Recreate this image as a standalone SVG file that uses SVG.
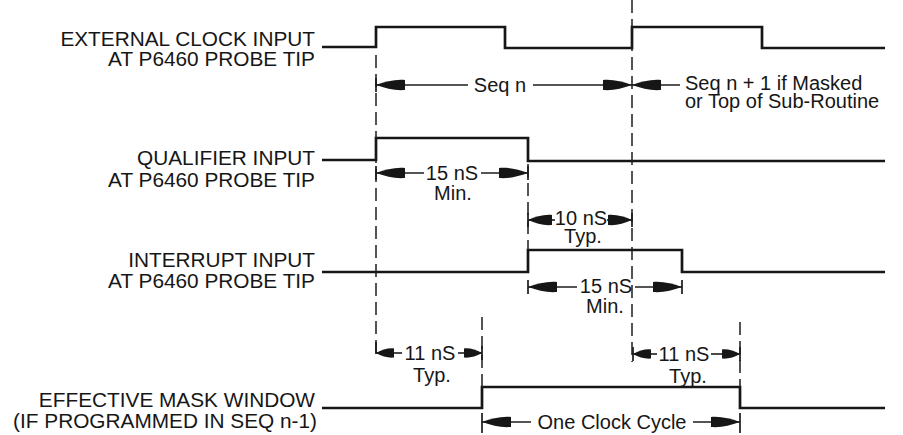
<svg xmlns="http://www.w3.org/2000/svg" width="903" height="435" viewBox="0 0 903 435">
<style>
  .sig{fill:none;stroke:#161616;stroke-width:2.7;stroke-linejoin:miter}
  .dash{fill:none;stroke:#1c1c1c;stroke-width:1.5;stroke-dasharray:13 6}
  .tick{fill:none;stroke:#1c1c1c;stroke-width:1.7}
  .dim{fill:none;stroke:#1c1c1c;stroke-width:1.6}
  .lbl{font-family:"Liberation Sans",Arial,sans-serif;font-size:20.8px;fill:#161616;text-anchor:end}
  .ann{font-family:"Liberation Sans",Arial,sans-serif;font-size:20px;fill:#161616;text-anchor:middle}
  .annl{font-family:"Liberation Sans",Arial,sans-serif;font-size:20px;fill:#161616;text-anchor:start}
  .head{fill:#161616;stroke:none}
</style>
<defs>
  <marker id="ahL" markerUnits="userSpaceOnUse" markerWidth="29" markerHeight="13" viewBox="0 -6.5 29 13" refX="29" refY="0" orient="auto-start-reverse" overflow="visible">
    <path class="head" d="M0,-5 C10,-5.8 19,-3.5 29,0 C19,3.5 10,5.8 0,5 Z"/>
  </marker>
  <marker id="ahM" markerUnits="userSpaceOnUse" markerWidth="24" markerHeight="13" viewBox="0 -6.5 24 13" refX="24" refY="0" orient="auto-start-reverse" overflow="visible">
    <path class="head" d="M0,-5 C8,-5.8 16,-3.5 24,0 C16,3.5 8,5.8 0,5 Z"/>
  </marker>
  <marker id="ahS" markerUnits="userSpaceOnUse" markerWidth="18" markerHeight="12" viewBox="0 -6 18 12" refX="18" refY="0" orient="auto-start-reverse" overflow="visible">
    <path class="head" d="M0,-4.6 C6,-5.2 12,-3.2 18,0 C12,3.2 6,5.2 0,4.6 Z"/>
  </marker>
</defs>
<rect width="903" height="435" fill="#ffffff"/>

<g id="clock">
  <text class="lbl" x="315" y="46">EXTERNAL CLOCK INPUT</text>
  <text class="lbl" x="315" y="66">AT P6460 PROBE TIP</text>
  <path class="sig" d="M322,47 H376 V27 H505 V48 H632 V27 H762 V48 H885"/>
</g>
<g id="qualifier">
  <text class="lbl" x="315" y="165">QUALIFIER INPUT</text>
  <text class="lbl" x="315" y="187">AT P6460 PROBE TIP</text>
  <path class="sig" d="M322,160 H376 V138 H528 V161 H885"/>
</g>
<g id="interrupt">
  <text class="lbl" x="315" y="267">INTERRUPT INPUT</text>
  <text class="lbl" x="315" y="288">AT P6460 PROBE TIP</text>
  <path class="sig" d="M322,272 H528 V250 H682 V272 H885"/>
</g>
<g id="mask">
  <text class="lbl" x="315" y="407">EFFECTIVE MASK WINDOW</text>
  <text class="lbl" x="317" y="428">(IF PROGRAMMED IN SEQ n-1)</text>
  <path class="sig" d="M322,408 H482 V387 H740 V408 H885"/>
</g>

<g id="connectors">
  <!-- dashed reference lines -->
  <path class="dash" d="M376,55 V353 H384"/>
  <path class="dash" d="M632,0 V362"/>
  <path class="dash" d="M528,164 V250"/>
  <path class="dash" d="M482,317 V387"/>
  <path class="dash" d="M740,322 V387"/>
  <!-- ticks -->
  <path class="tick" d="M376,78 V92 M376,166 V180 M528,166 V180 M528,213 V227 M632,213 V227 M528,280 V294 M682,280 V294 M376,342 V354 M482,346 V360 M633,347 V361 M740,347 V361 M482,413 V433 M740,413 V433"/>
  <!-- Seq n -->
  <path class="dim" d="M376,85 H468" marker-start="url(#ahL)"/>
  <path class="dim" d="M533,85 H632" marker-end="url(#ahL)"/>
  <path class="dim" d="M632,85 H680" marker-start="url(#ahL)"/>
  <!-- 15 nS qualifier -->
  <path class="dim" d="M376,173 H424" marker-start="url(#ahL)"/>
  <path class="dim" d="M481,173 H528" marker-end="url(#ahL)"/>
  <!-- 10 nS -->
  <path class="dim" d="M528,220 H555" marker-start="url(#ahM)"/>
  <path class="dim" d="M607,220 H632" marker-end="url(#ahM)"/>
  <!-- 15 nS interrupt -->
  <path class="dim" d="M528,287 H577" marker-start="url(#ahL)"/>
  <path class="dim" d="M635,287 H682" marker-end="url(#ahL)"/>
  <!-- 11 nS left -->
  <path class="dim" d="M376,353 H402" marker-start="url(#ahS)"/>
  <path class="dim" d="M458,353 H482" marker-end="url(#ahS)"/>
  <!-- 11 nS right -->
  <path class="dim" d="M633,354 H657" marker-start="url(#ahS)"/>
  <path class="dim" d="M711,354 H740" marker-end="url(#ahS)"/>
  <!-- One Clock Cycle -->
  <path class="dim" d="M482,422 H531" marker-start="url(#ahL)"/>
  <path class="dim" d="M693,422 H740" marker-end="url(#ahL)"/>
</g>

<g id="annotations">
  <text class="ann" x="500" y="92">Seq n</text>
  <text class="annl" x="685" y="90">Seq n + 1 if Masked</text>
  <text class="annl" x="685" y="108">or Top of Sub-Routine</text>
  <text class="ann" x="452" y="180">15 nS</text>
  <text class="ann" x="453" y="200">Min.</text>
  <text class="ann" x="581" y="225">10 nS</text>
  <text class="ann" x="583" y="243">Typ.</text>
  <text class="ann" x="606" y="293">15 nS</text>
  <text class="ann" x="605" y="313">Min.</text>
  <text class="ann" x="430" y="360">11 nS</text>
  <text class="ann" x="432" y="382">Typ.</text>
  <text class="ann" x="684" y="361">11 nS</text>
  <text class="ann" x="688" y="383">Typ.</text>
  <text class="ann" x="612" y="429">One Clock Cycle</text>
</g>
</svg>
